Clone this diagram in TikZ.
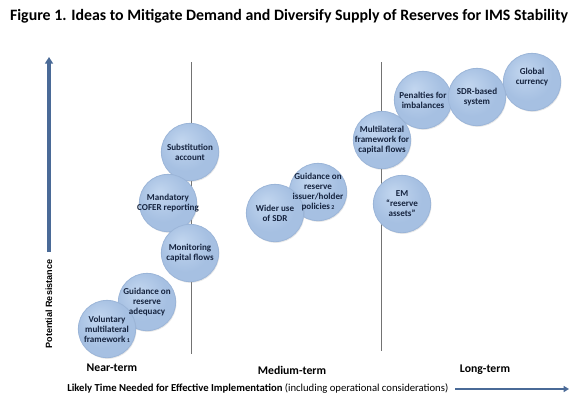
\documentclass[tikz,border=0pt]{standalone}
\usepackage{fontspec}
\setmainfont{Carlito}
\newfontfamily\arialfont{Liberation Sans}
\usepackage{tikz}
\usetikzlibrary{arrows.meta,shadows}

\definecolor{BubbleIn}{HTML}{C2D6EF}
\definecolor{BubbleMid}{HTML}{A6C0E2}
\definecolor{BubbleOut}{HTML}{86A6D0}
\definecolor{BubbleEdge}{HTML}{9BB5D8}
\definecolor{BubbleText}{HTML}{16243F}
\definecolor{AxisBlue}{HTML}{4A6A97}
\pgfdeclareradialshading{bubbleshade}{\pgfpoint{-8bp}{10bp}}{%
  color(0bp)=(BubbleIn); color(22bp)=(BubbleMid);
  color(42bp)=(BubbleMid); color(50bp)=(BubbleOut)}

\begin{document}
\begin{tikzpicture}[
  x=0.75pt, y=-0.75pt,
  bubble/.style={circle, minimum size=43pt, inner sep=0pt,
    draw=BubbleEdge, line width=0.6pt, shading=bubbleshade,
    drop shadow={opacity=0.18, shadow xshift=0.6pt, shadow yshift=-0.9pt}},
  bubbletext/.style={text=BubbleText, align=center, inner sep=0pt,
    font=\fontsize{6.8}{7.5}\selectfont\bfseries},
  divider/.style={draw=black!55, line width=0.6pt},
  axis/.style={draw=AxisBlue, -{Triangle[length=5pt, width=6pt]}},
  term/.style={font=\fontsize{8.8}{10}\selectfont\bfseries}
  ]

\useasboundingbox (0,0) rectangle (580,415);

\node[font=\fontsize{11.9}{13}\selectfont\bfseries] (title) at (289,16)
  {Figure 1. Ideas to Mitigate Demand and Diversify Supply of Reserves for IMS Stability};

\draw[divider] (191,62) -- (191,354);
\draw[divider] (381,62) -- (381,351);

\coordinate (ybottom) at (49,252);
\coordinate (ytop) at (49,57);
\draw[axis, line width=2.6pt] (ybottom) -- (ytop);
\node[rotate=90, font=\arialfont\fontsize{6.8}{7}\selectfont\bfseries] (yaxis) at (49,304)
  {Potential Resistance};

\node[bubble] (adequacy) at (147,302) {};
\node[bubble] (voluntary) at (107,329) {};
\node[bubble] (substitution) at (190,152) {};
\node[bubble] (cofer) at (168,203) {};
\node[bubble] (monitoring) at (190,253) {};
\node[bubble] (issuer) at (318,192) {};
\node[bubble] (wideruse) at (275,213) {};
\node[bubble] (capflows) at (382,140) {};
\node[bubble] (emassets) at (402,204) {};
\node[bubble] (global) at (532,82) {};
\node[bubble] (penalties) at (423,100) {};
\node[bubble] (sdrsystem) at (477,97) {};

\node[bubbletext] at (voluntary)
  {Voluntary\\multilateral\\framework\,{\fontsize{4.5}{4}\selectfont 1}};
\node[bubbletext] at (adequacy) {Guidance on\\reserve\\adequacy};
\node[bubbletext] at (substitution) {Substitution\\account};
\node[bubbletext] at (cofer) {Mandatory\\COFER reporting};
\node[bubbletext] at (monitoring) {Monitoring\\capital flows};
\node[bubbletext] at (issuer)
  {Guidance on\\reserve\\issuer/holder\\policies\,{\fontsize{4.5}{4}\selectfont 2}};
\node[bubbletext] at (wideruse) {Wider use\\of SDR};
\node[bubbletext] at (capflows) {Multilateral\\framework for\\capital flows};
\node[bubbletext] at (emassets) {EM\\``reserve\\assets''};
\node[bubbletext, yshift=4pt] at (global) {Global\\currency};
\node[bubbletext] at (penalties) {Penalties for\\imbalances};
\node[bubbletext] at (sdrsystem) {SDR-based\\system};

\node[term] (near) at (112,368) {Near-term};
\node[term] (medium) at (292,370) {Medium-term};
\node[term] (long) at (485,370) {Long-term};

\node[font=\fontsize{8}{9}\selectfont, anchor=west, inner sep=0pt] (xaxis) at (67,389)
  {\textbf{Likely Time Needed for Effective Implementation} (including operational considerations)};
\coordinate (xend) at (569,389);
\draw[axis, line width=1.8pt, -{Triangle[length=4pt, width=4.5pt]}]
  ([xshift=5pt]xaxis.east) -- (xend);

\end{tikzpicture}
\end{document}
